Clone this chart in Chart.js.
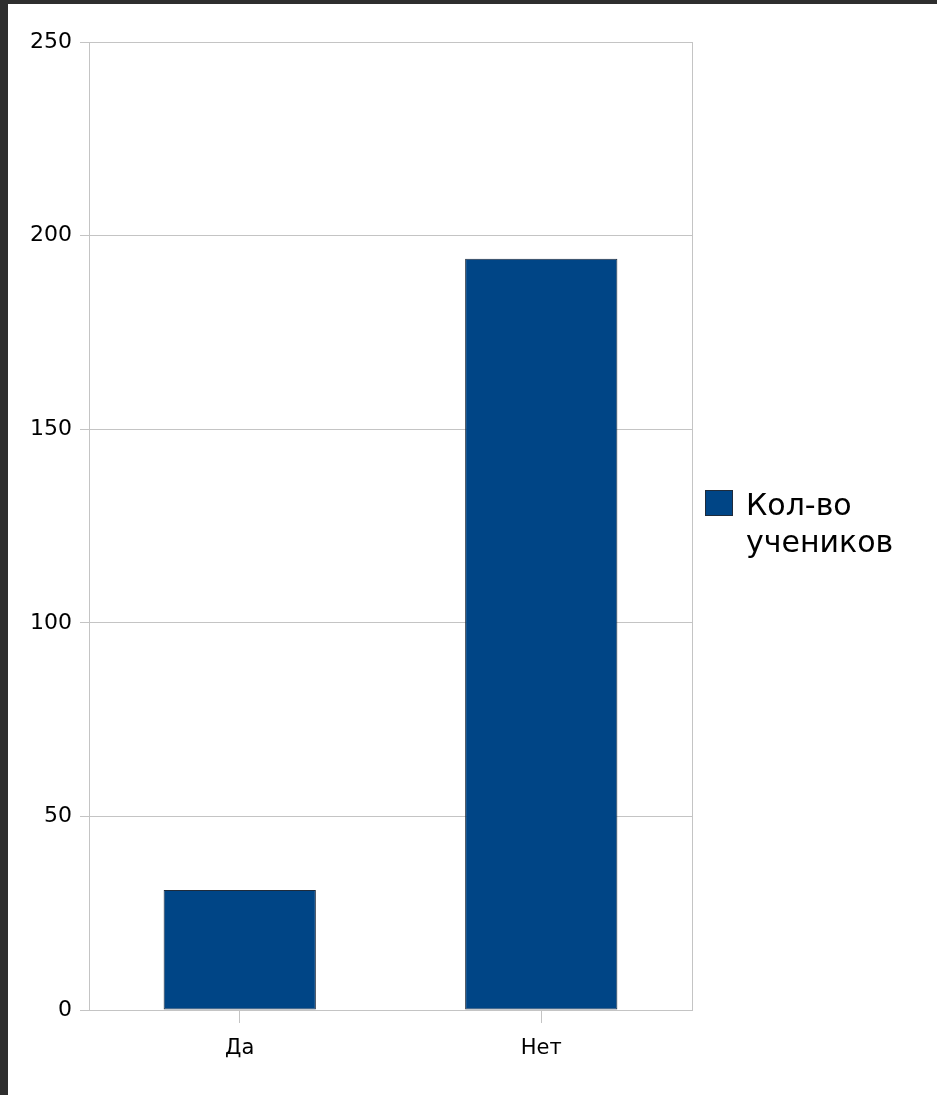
<!DOCTYPE html>
<html>
<head>
<meta charset="utf-8">
<script src="https://cdn.jsdelivr.net/npm/chart.js@4"></script>
<style>
    body { margin: 0; background: #2e2e2e; }
    #wrap { position: absolute; left: 0; top: 0; width: 937px; height: 1095px; overflow: hidden; }
    #paper { position: absolute; left: 8px; top: 4px; right: 0; bottom: 0; background: #ffffff; }
    #chart { position: absolute; left: 0; top: 0; }
</style>
</head>
<body>
<div id="wrap">
    <div id="paper"></div>
    <canvas id="chart" width="937" height="1095"></canvas>
</div>
<script>
// Chart data
const categories = ["Да", "Нет"];
const studentCounts = [31, 194];
const seriesLabel = ["Кол-во", "учеников"];
const yTicks = [0, 50, 100, 150, 200, 250];

const barColor = "#004586";
const gridColor = "#c4c4c4";

// Frame around the plot area (right and top edges)
const plotFrame = {
    id: 'plotFrame',
    beforeDatasetsDraw(chart) {
        const a = chart.chartArea;
        const ctx = chart.ctx;
        ctx.save();
        ctx.strokeStyle = gridColor;
        ctx.lineWidth = 1;
        ctx.strokeRect(Math.round(a.left) + 0.5, Math.round(a.top) + 0.5,
            Math.round(a.right - a.left), Math.round(a.bottom - a.top));
        ctx.restore();
    }
};

// Legend on the right, text split in two lines
const sideLegend = {
    id: 'sideLegend',
    afterDraw(chart) {
        const ctx = chart.ctx;
        const ds = chart.data.datasets[0];
        const x = chart.chartArea.right + 13;
        const y = 490;
        ctx.save();
        ctx.fillStyle = ds.backgroundColor;
        ctx.fillRect(x, y, 28, 26);
        ctx.strokeStyle = ds.borderColor;
        ctx.lineWidth = 1;
        ctx.strokeRect(x + 0.5, y + 0.5, 27, 25);
        ctx.fillStyle = '#000000';
        ctx.font = '30px "DejaVu Sans"';
        ctx.textBaseline = 'alphabetic';
        ds.label.forEach((line, i) => {
            ctx.fillText(line, x + 41, 515 + i * 37);
        });
        ctx.restore();
    }
};

const ctx = document.getElementById("chart").getContext("2d");

new Chart(ctx, {
    type: "bar",
    data: {
        labels: categories,
        datasets: [{
            label: seriesLabel,
            data: studentCounts,
            backgroundColor: barColor,
            borderColor: "#1f2b3b",
            borderWidth: 1,
            borderSkipped: false,
            categoryPercentage: 1.0,
            barPercentage: 0.505
        }]
    },
    options: {
        responsive: false,
        animation: false,
        layout: {
            padding: { top: 42, right: 245, left: 0, bottom: 0 }
        },
        plugins: {
            legend: { display: false },
            tooltip: { enabled: false }
        },
        scales: {
            y: {
                min: 0,
                max: 250,
                afterFit: s => { s.width = 89; },
                afterBuildTicks: s => { s.ticks = yTicks.map(v => ({ value: v })); },
                grid: {
                    color: gridColor,
                    tickLength: 9,
                    drawTicks: true
                },
                border: { color: gridColor },
                ticks: {
                    color: '#000000',
                    padding: 8,
                    font: { family: 'DejaVu Sans', size: 22 }
                }
            },
            x: {
                afterFit: s => { s.height = 85; },
                offset: true,
                grid: {
                    offset: false,
                    drawOnChartArea: false,
                    color: gridColor,
                    tickLength: 13
                },
                border: { color: gridColor },
                ticks: {
                    color: '#000000',
                    padding: 13,
                    font: { family: 'DejaVu Sans', size: 21 }
                }
            }
        }
    },
    plugins: [plotFrame, sideLegend]
});
</script>
</body>
</html>
